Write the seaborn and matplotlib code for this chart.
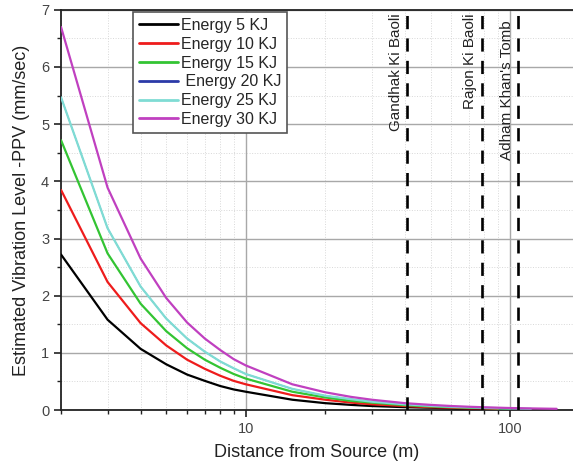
import matplotlib
matplotlib.use("Agg")
import matplotlib.pyplot as plt
import matplotlib.ticker as mticker
import seaborn as sns
import pandas as pd

distance = [2, 3, 4, 5, 6, 7, 8, 9, 10, 15, 20, 25, 30, 40, 50, 60, 70, 80, 90, 100, 120, 150]

ppv_5 = [2.72, 1.58, 1.07, 0.80, 0.62, 0.51, 0.42, 0.36, 0.32, 0.18, 0.12, 0.09, 0.07, 0.05, 0.04, 0.03, 0.02, 0.02]
ppv_10 = [3.85, 2.24, 1.52, 1.13, 0.88, 0.72, 0.60, 0.51, 0.45, 0.26, 0.18, 0.13, 0.10, 0.07, 0.05, 0.04, 0.03, 0.03, 0.02]
ppv_15 = [4.72, 2.74, 1.86, 1.38, 1.08, 0.88, 0.74, 0.63, 0.55, 0.32, 0.22, 0.16, 0.13, 0.085, 0.063, 0.050, 0.040, 0.034, 0.029, 0.025]
ppv_20 = [5.47, 3.18, 2.16, 1.60, 1.25, 1.02, 0.85, 0.73, 0.63, 0.37, 0.25, 0.19, 0.145, 0.099, 0.073, 0.057, 0.047, 0.039, 0.033, 0.029, 0.023]
ppv_25 = [5.47, 3.18, 2.16, 1.60, 1.25, 1.02, 0.85, 0.73, 0.63, 0.37, 0.25, 0.19, 0.145, 0.099, 0.073, 0.057, 0.047, 0.039, 0.033, 0.029, 0.023]
ppv_30 = [6.70, 3.89, 2.65, 1.96, 1.53, 1.25, 1.05, 0.89, 0.78, 0.45, 0.31, 0.23, 0.18, 0.12, 0.09, 0.07, 0.057, 0.048, 0.041, 0.035, 0.028, 0.021]

series_labels = ["Energy 5 KJ", "Energy 10 KJ", "Energy 15 KJ", " Energy 20 KJ", "Energy 25 KJ", "Energy 30 KJ"]
series_values = [ppv_5, ppv_10, ppv_15, ppv_20, ppv_25, ppv_30]
colors = ["#000000", "#ee1c1c", "#33c433", "#2b3aa8", "#7fdcd4", "#c040c0"]

monuments = ["Gandhak Ki Baoli", "Rajon Ki Baoli", "Adham Khan's Tomb"]
monument_dist = [40.7, 78, 107]

rows = []
for lab, vals in zip(series_labels, series_values):
    for d, v in zip(distance, vals):
        rows.append({"Distance": d, "PPV": v, "Series": lab})
df = pd.DataFrame(rows)

sns.set_theme(style="white")
plt.rcParams["font.family"] = ["Liberation Sans", "DejaVu Sans"]

fig = plt.figure(figsize=(5.73, 4.67), dpi=100)
ax = fig.add_axes([0.1065, 0.122, 0.8935, 0.857])

ax.set_xscale("log")
sns.lineplot(data=df, x="Distance", y="PPV", hue="Series", hue_order=series_labels,
             palette=dict(zip(series_labels, colors)), linewidth=1.6, ax=ax, zorder=3)
# the 20 KJ curve lies underneath the 25 KJ curve
ax.lines[3].set_linewidth(0.8)

for d in monument_dist:
    ax.axvline(d, color="black", linestyle=(0, (5, 3.5)), linewidth=1.9, zorder=4)
tops = [6.93, 6.93, 6.82]
for name, d, t in zip(monuments, monument_dist, tops):
    ax.text(d * 0.965, t, name, rotation=90, ha="right", va="top", fontsize=11, color="#222222", zorder=5)

ax.set_xlim(2, 173)
ax.set_ylim(0, 7)
ax.xaxis.set_major_locator(mticker.LogLocator(base=10))
ax.xaxis.set_minor_locator(mticker.LogLocator(base=10, subs=range(2, 10)))
ax.xaxis.set_major_formatter(mticker.FuncFormatter(lambda v, p: f"{v:g}"))
ax.xaxis.set_minor_formatter(mticker.NullFormatter())
ax.yaxis.set_major_locator(mticker.MultipleLocator(1))
ax.yaxis.set_minor_locator(mticker.MultipleLocator(0.5))

ax.grid(which="major", color="#a8a8a8", linewidth=1.0, linestyle="-")
ax.grid(which="minor", color="#d8d8d8", linewidth=0.7, linestyle=":")
ax.set_axisbelow(True)

ax.tick_params(which="major", direction="out", length=5, width=1.2, color="#222222",
               labelsize=10.5, labelcolor="#444444", left=True, bottom=True)
ax.tick_params(which="minor", direction="out", length=3, width=1.0, color="#222222", left=True, bottom=True)

for s in ["left", "bottom", "top"]:
    ax.spines[s].set_color("#222222")
    ax.spines[s].set_linewidth(1.3)
ax.spines["right"].set_visible(False)

ax.set_xlabel("Distance from Source (m)", fontsize=13, color="#222222", labelpad=6)
ax.set_ylabel("Estimated Vibration Level -PPV (mm/sec)", fontsize=13, color="#222222", labelpad=8)

leg = ax.legend(loc="upper left", bbox_to_anchor=(0.141, 0.995), fontsize=11.5, frameon=True,
                fancybox=False, edgecolor="#555555", framealpha=1, handlelength=2.4,
                handletextpad=0.2, labelspacing=0.24, borderpad=0.38, borderaxespad=0)
leg.get_frame().set_linewidth(1.2)
for line in leg.get_lines():
    line.set_linewidth(2.0)
leg.set_zorder(6)

fig.savefig("out.png", dpi=100)
